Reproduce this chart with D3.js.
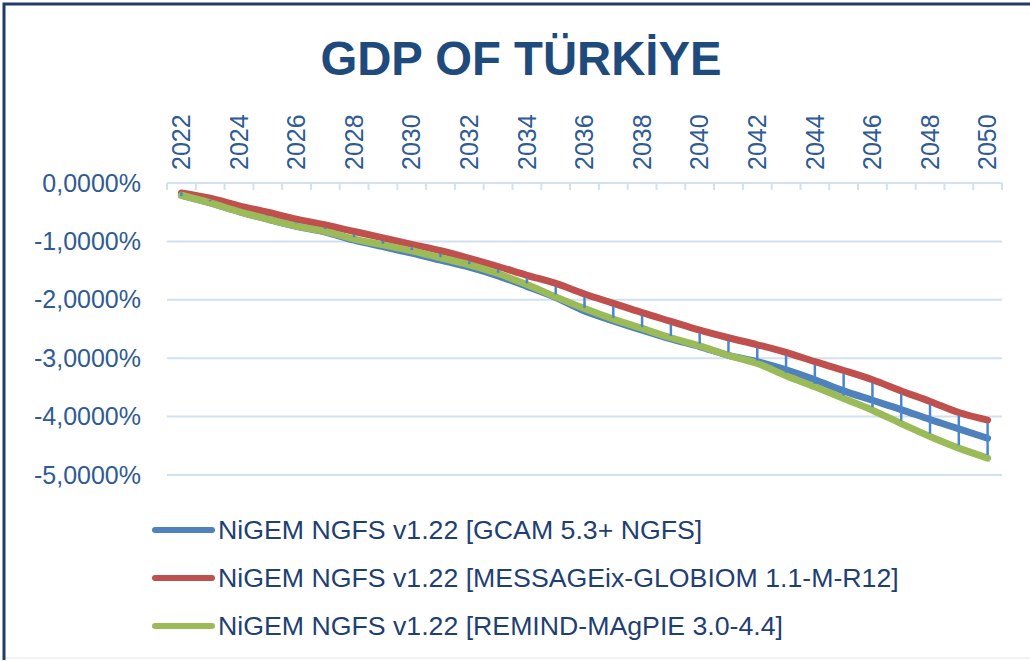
<!DOCTYPE html>
<html>
<head>
<meta charset="utf-8">
<script src="https://cdn.jsdelivr.net/npm/d3@7"></script>
<style>
  body { margin: 0; background: #fff; }
  svg { display: block; font-family: "Liberation Sans", Arial, sans-serif; }
</style>
</head>
<body>
<svg id="chart" width="1030" height="661"></svg>
<script>
// chart data (values in %)
const years = d3.range(2022, 2051);
const gcam = [-0.21, -0.34, -0.49, -0.62, -0.74, -0.84, -0.98, -1.09, -1.20, -1.32,
  -1.44, -1.59, -1.77, -1.96, -2.19, -2.36, -2.52, -2.67, -2.80, -2.95,
  -3.06, -3.20, -3.37, -3.56, -3.72, -3.88, -4.05, -4.21, -4.37];
const message = [-0.17, -0.26, -0.39, -0.50, -0.62, -0.72, -0.83, -0.94, -1.05, -1.16,
  -1.29, -1.43, -1.58, -1.72, -1.90, -2.06, -2.22, -2.37, -2.52, -2.65,
  -2.77, -2.90, -3.06, -3.21, -3.37, -3.56, -3.74, -3.93, -4.06];
const remind = [-0.21, -0.34, -0.49, -0.62, -0.74, -0.83, -0.96, -1.06, -1.16, -1.28,
  -1.40, -1.55, -1.74, -1.95, -2.15, -2.33, -2.49, -2.65, -2.79, -2.95,
  -3.09, -3.30, -3.49, -3.69, -3.89, -4.12, -4.34, -4.54, -4.71];
const seriesNames = [
  "NiGEM NGFS v1.22 [GCAM 5.3+ NGFS]",
  "NiGEM NGFS v1.22 [MESSAGEix-GLOBIOM 1.1-M-R12]",
  "NiGEM NGFS v1.22 [REMIND-MAgPIE 3.0-4.4]"
];
const seriesColors = ["#4f81bd", "#c0504d", "#9bbb59"];
const yTicks = [0, -1, -2, -3, -4, -5];
const xLabelYears = years.filter(d => d % 2 === 0);

const svg = d3.select("#chart");

// frame
svg.append("rect").attr("x", 4).attr("y", 4).attr("width", 1030).attr("height", 654)
  .attr("fill", "#fff").attr("stroke", "#e6e6e6");
svg.append("path").attr("d", "M4,660 V4 H1030")
  .attr("fill", "none").attr("stroke", "#1f3a6e").attr("stroke-width", 3);

// title
svg.append("text").attr("x", 521).attr("y", 75).attr("text-anchor", "middle")
  .attr("font-size", 47.3).attr("font-weight", "bold").attr("fill", "#1f4a7c")
  .text("GDP OF TÜRKİYE");

const x = d3.scaleBand().domain(years).range([167, 1002]);
const y = d3.scaleLinear().domain([-5, 0]).range([475, 183]);
const cx = d => x(d) + x.bandwidth() / 2;

const loc = d3.formatLocale({decimal: ",", thousands: ".", grouping: [3], currency: ["", ""], minus: "-"});
const fmt = loc.format(".4f");

// gridlines
svg.append("g").selectAll("line").data(yTicks).join("line")
  .attr("x1", 167).attr("x2", 1002)
  .attr("y1", d => y(d)).attr("y2", d => y(d))
  .attr("stroke", "#d3e0f0").attr("stroke-width", 2);

// y axis labels
const yAxis = svg.append("g").attr("transform", "translate(167,0)")
  .call(d3.axisLeft(y).tickValues(yTicks).tickSize(0).tickPadding(26)
    .tickFormat(d => fmt(d) + "%"));
yAxis.select(".domain").remove();
yAxis.selectAll("text").attr("font-size", 25).attr("fill", "#2f5b92")
  .attr("font-family", "Liberation Sans, Arial, sans-serif");

// x axis ticks at category boundaries
svg.append("g").selectAll("line").data(years.concat([null])).join("line")
  .attr("x1", d => d === null ? 1002 : x(d)).attr("x2", d => d === null ? 1002 : x(d))
  .attr("y1", y(0)).attr("y2", y(0) + 7)
  .attr("stroke", "#d3e0f0").attr("stroke-width", 2);

// x labels (rotated, on top)
const xAxis = svg.append("g").attr("transform", `translate(0,${y(0)})`)
  .call(d3.axisTop(x).tickValues(xLabelYears).tickSize(0));
xAxis.select(".domain").remove();
xAxis.selectAll("text")
  .attr("font-size", 25).attr("fill", "#2f5b92")
  .attr("font-family", "Liberation Sans, Arial, sans-serif")
  .attr("transform", "rotate(-90)")
  .attr("text-anchor", "start").attr("x", 13).attr("y", 0).attr("dy", "0.35em");

// series lines
const allSeries = [gcam, message, remind];
const line = d3.line().x((d, i) => cx(years[i])).y(d => y(d)).curve(d3.curveMonotoneX);
svg.append("g").selectAll("path").data(allSeries).join("path")
  .attr("d", d => line(d))
  .attr("fill", "none")
  .attr("stroke", (d, i) => seriesColors[i])
  .attr("stroke-width", 7)
  .attr("stroke-linejoin", "round").attr("stroke-linecap", "round");

// high-low lines
svg.append("g").selectAll("line").data(years).join("line")
  .attr("x1", d => cx(d)).attr("x2", d => cx(d))
  .attr("y1", (d, i) => y(d3.max(allSeries, s => s[i])) + 3)
  .attr("y2", (d, i) => y(d3.min(allSeries, s => s[i])) - 3)
  .attr("stroke", "#4a86cf").attr("stroke-width", 2.5);

// legend
const legend = svg.append("g").selectAll("g").data(seriesNames).join("g")
  .attr("transform", (d, i) => `translate(152,${530 + i * 48})`);
legend.append("line").attr("x1", 3).attr("x2", 60)
  .attr("stroke", (d, i) => seriesColors[i]).attr("stroke-width", 6)
  .attr("stroke-linecap", "round");
legend.append("text").attr("x", 66).attr("dy", "0.35em")
  .attr("font-size", 26.7).attr("fill", "#1f3f73")
  .text(d => d);
</script>
</body>
</html>
